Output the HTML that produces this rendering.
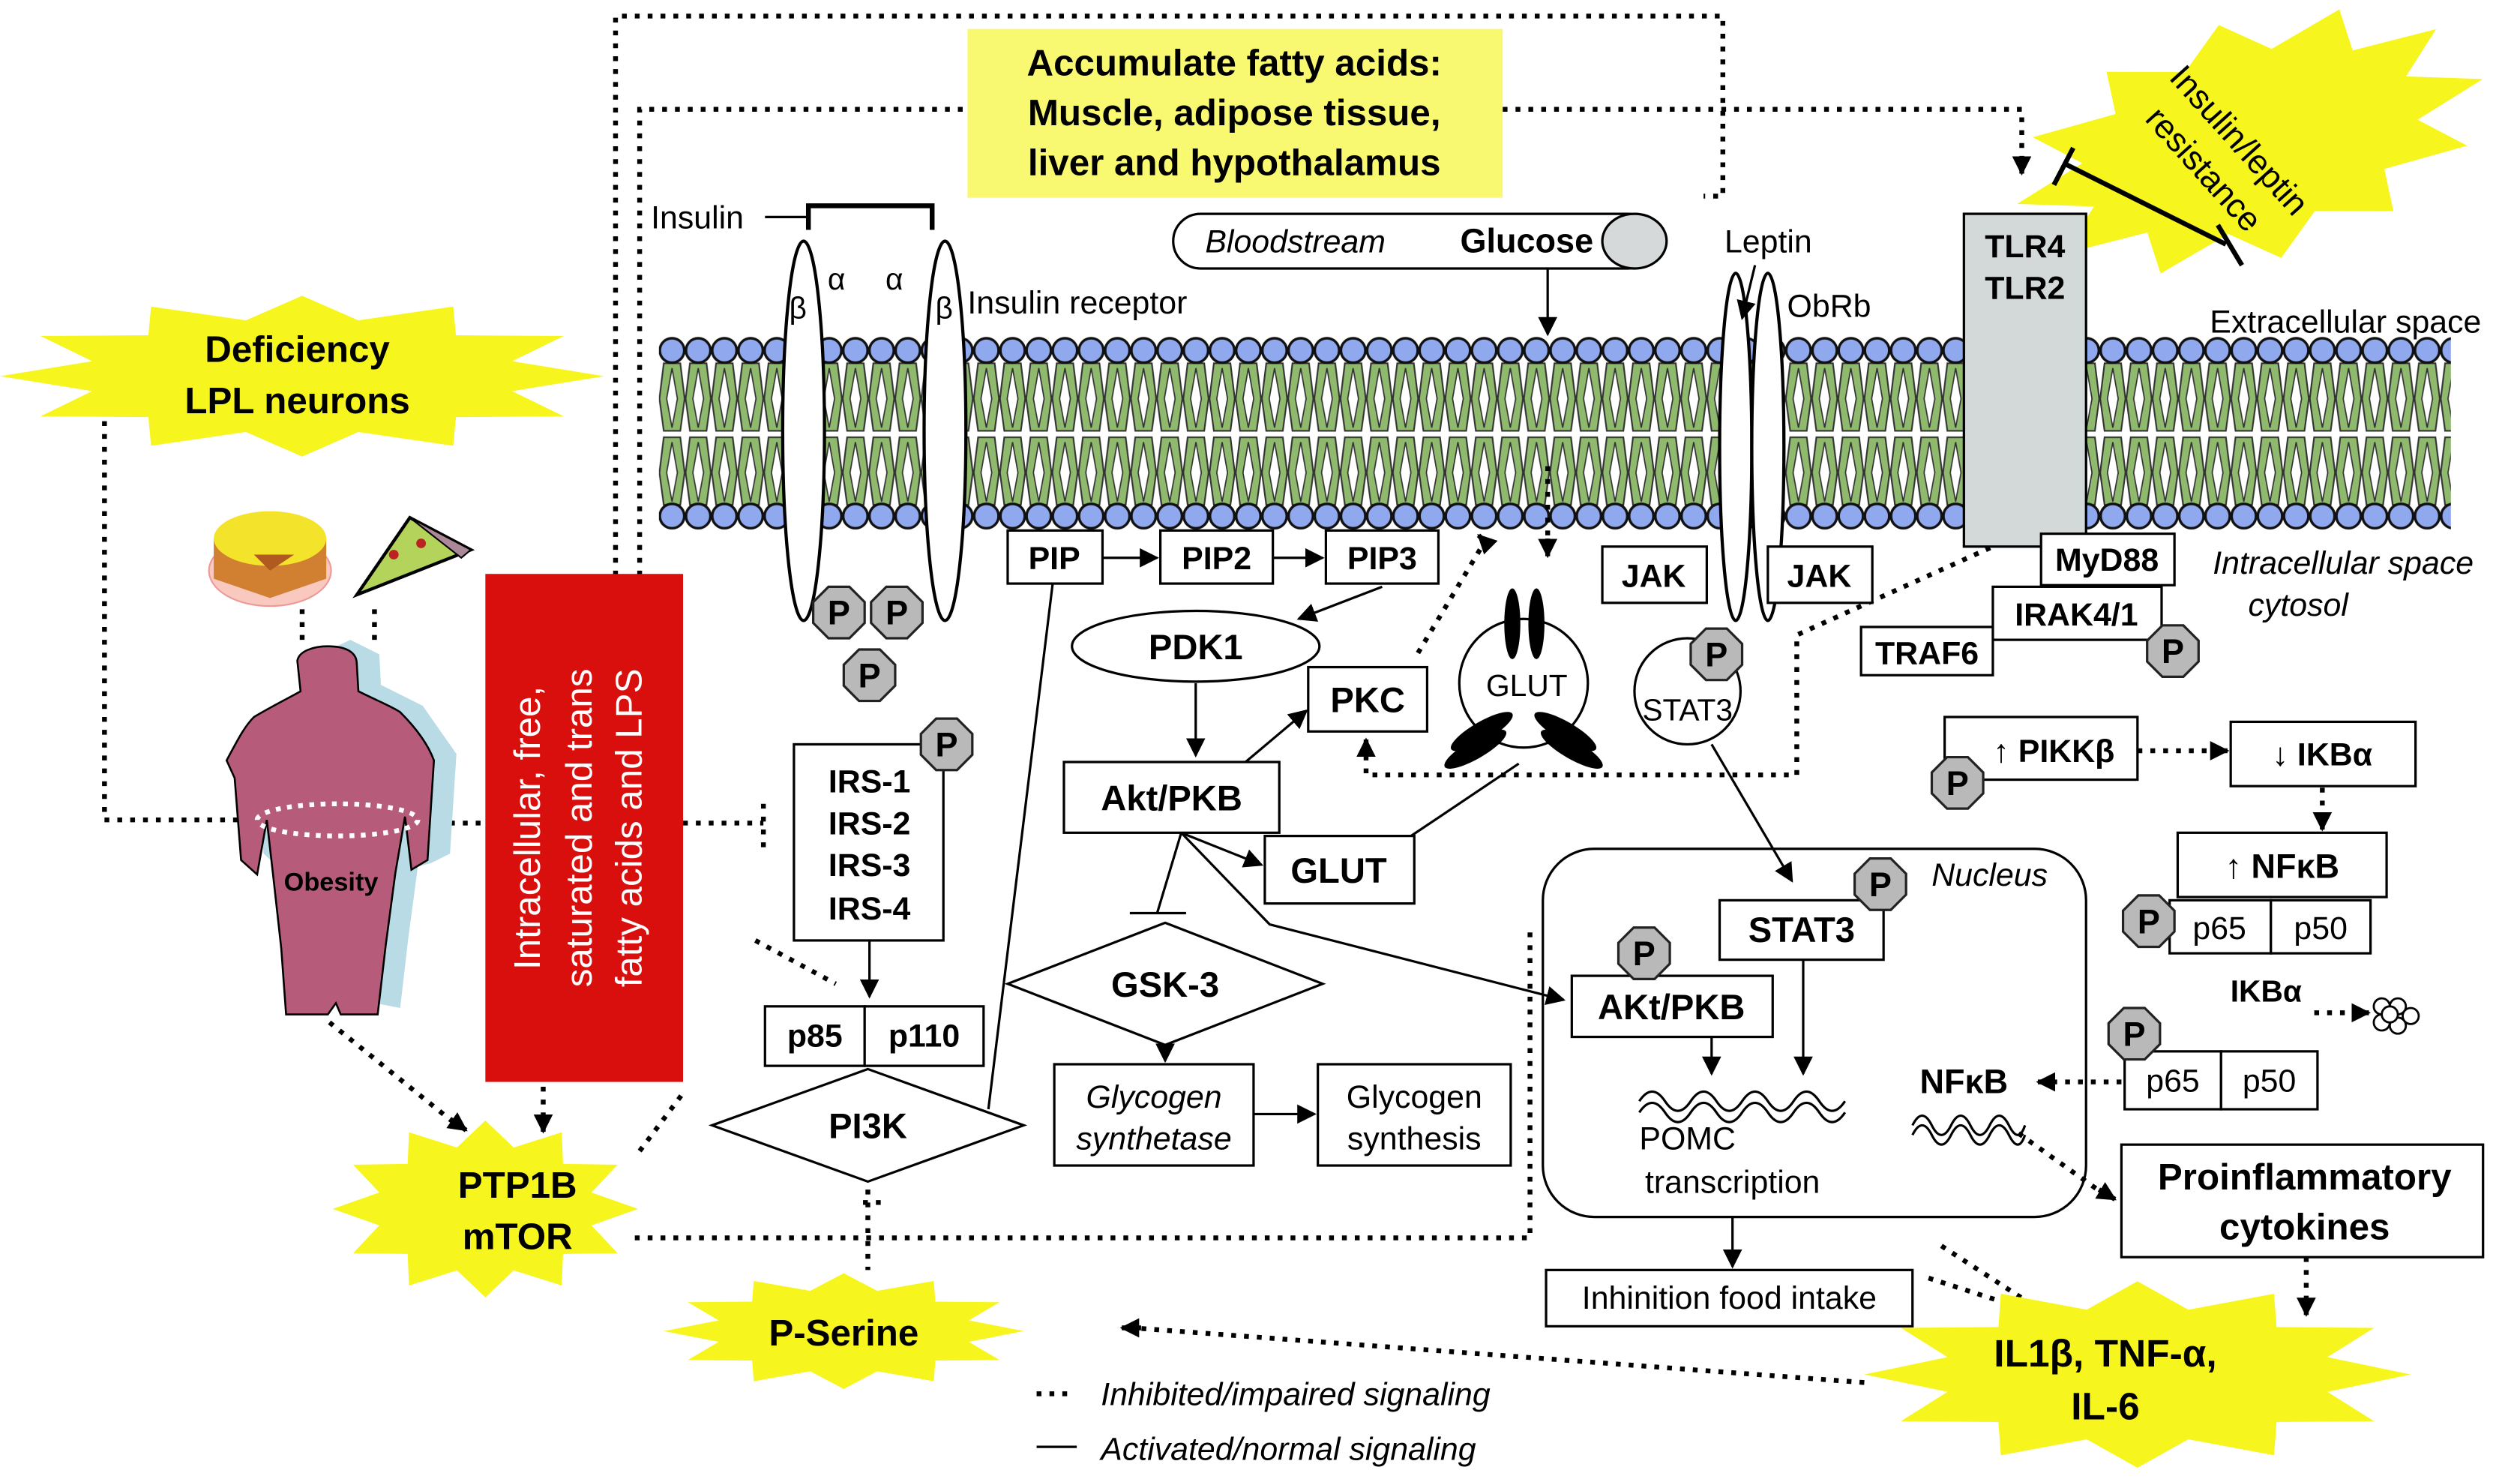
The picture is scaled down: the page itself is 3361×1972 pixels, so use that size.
<!DOCTYPE html>
<html><head><meta charset="utf-8"><style>
html,body{margin:0;padding:0;background:#fff}
svg{display:block}
text{font-family:"Liberation Sans",Arial,sans-serif}
.b{font-weight:bold}
</style></head><body>
<svg width="3361" height="1972" viewBox="0 0 1568 920" xmlns="http://www.w3.org/2000/svg">
<defs>
<marker id="a" viewBox="0 0 10 10" refX="9" refY="5" markerWidth="12" markerHeight="12" markerUnits="userSpaceOnUse" orient="auto"><path d="M0,0L10,5L0,10z" fill="#000"/></marker>
<pattern id="mem" patternUnits="userSpaceOnUse" x="410" y="208" width="16.3" height="124">
<polygon points="3,18 13.3,18 16,40 13.3,60 3,60 0.3,40" fill="#8fba6e" stroke="#333" stroke-width="1"/>
<polygon points="8.15,21 11.5,40 8.15,58 4.8,40" fill="#fff" stroke="#333" stroke-width="0.8"/>
<polygon points="3,64 13.3,64 16,86 13.3,106 3,106 0.3,86" fill="#8fba6e" stroke="#333" stroke-width="1"/>
<polygon points="8.15,67 11.5,86 8.15,104 4.8,86" fill="#fff" stroke="#333" stroke-width="0.8"/>
<circle cx="8.15" cy="10" r="7.6" fill="#8fa8ee" stroke="#111" stroke-width="1.6"/>
<circle cx="8.15" cy="113" r="7.6" fill="#8fa8ee" stroke="#111" stroke-width="1.6"/>
</pattern>
<polygon id="star" points="1,0 .695,.186 .866,.5 .509,.509 .5,.866 .186,.695 0,1 -.186,.695 -.5,.866 -.509,.509 -.866,.5 -.695,.186 -1,0 -.695,-.186 -.866,-.5 -.509,-.509 -.5,-.866 -.186,-.695 0,-1 .186,-.695 .5,-.866 .509,-.509 .866,-.5 .695,-.186" fill="#f7f51e"/>
<g id="P"><polygon points="6.5,-16 16,-6.5 16,6.5 6.5,16 -6.5,16 -16,6.5 -16,-6.5 -6.5,-16" fill="#b9b9b9" stroke="#222" stroke-width="1.5"/><text x="0" y="7.5" text-anchor="middle" font-size="21" class="b">P</text></g>
</defs>

<!-- membrane -->
<rect x="410" y="208" width="1115" height="124" fill="url(#mem)"/>

<!-- top dotted -->
<g fill="none" stroke="#000" stroke-width="3" stroke-dasharray="3,5">
<path d="M383,358V10H1072V122H1060"/>
<path d="M398,358V68H602"/>
<path d="M935,68H1258V105"/>
<path d="M963,290V340"/>
<path d="M850,470V482H1118V395L1240,340"/>
<path d="M925,335L880,410"/>
<path d="M65,262V510H155"/>
<path d="M240,512H300M425,512H475M475,500V527"/>
<path d="M188,379V402M233,379V400"/>
<path d="M205,636L282,698"/>
<path d="M338,676V698"/>
<path d="M398,716L425,680M470,585L520,612"/>
<path d="M395,770H952V575"/>
<path d="M540,740V790M548,748H535"/>
<path d="M1330,467H1380"/>
<path d="M1445,490V510"/>
<path d="M1440,630H1470"/>
<path d="M1320,673H1275"/>
<path d="M1256,705L1308,742"/>
<path d="M1435,782V812"/>
<path d="M1160,860L705,826"/>
<path d="M1200,795L1262,815M1208,775L1262,810"/>
<path d="M645,867H668"/>
</g>
<g stroke="#000" stroke-width="3" fill="none">
<path d="M1258,100V108" marker-end="url(#a)"/>
<path d="M925,338L920,333" marker-end="url(#a)"/>
<path d="M963,335V346" marker-end="url(#a)"/>
<path d="M850,470V460" marker-end="url(#a)"/>
<path d="M150,510H162" marker-end="url(#a)"/>
<path d="M280,696L290,703" marker-end="url(#a)"/>
<path d="M338,694V704" marker-end="url(#a)"/>
<path d="M1376,467H1386" marker-end="url(#a)"/>
<path d="M1445,506V516" marker-end="url(#a)"/>
<path d="M1466,630H1474" marker-end="url(#a)"/>
<path d="M1278,673H1268" marker-end="url(#a)"/>
<path d="M1306,740L1316,746" marker-end="url(#a)"/>
<path d="M1435,808V818" marker-end="url(#a)"/>
<path d="M710,826L698,826" marker-end="url(#a)"/>
</g>

<!-- yellow box -->
<rect x="602" y="18" width="333" height="105" fill="#f9f871"/>
<g class="b" font-size="23" text-anchor="middle"><text x="768" y="47" class="b">Accumulate fatty acids:</text><text x="768" y="78" class="b">Muscle, adipose tissue,</text><text x="768" y="109" class="b">liver and hypothalamus</text></g>

<!-- stars -->
<use href="#star" transform="translate(1400,88) rotate(-15) scale(150,75)"/>
<text transform="translate(1388,92) rotate(48)" font-size="21" text-anchor="middle">Insulin/leptin</text>
<text transform="translate(1366,110) rotate(48)" font-size="21" text-anchor="middle">resistance</text>
<use href="#star" transform="translate(188,234) scale(188,50)"/>
<text x="185" y="225" font-size="23" text-anchor="middle" class="b">Deficiency</text>
<text x="185" y="257" font-size="23" text-anchor="middle" class="b">LPL neurons</text>
<use href="#star" transform="translate(302,752) scale(95,55)"/>
<text x="322" y="745" font-size="23" text-anchor="middle" class="b">PTP1B</text>
<text x="322" y="777" font-size="23" text-anchor="middle" class="b">mTOR</text>
<use href="#star" transform="translate(525,828) scale(112,36)"/>
<text x="525" y="837" font-size="23" text-anchor="middle" class="b">P-Serine</text>
<use href="#star" transform="translate(1330,855) scale(170,58)"/>
<text x="1310" y="850" font-size="24" text-anchor="middle" class="b">IL1β, TNF-α,</text>
<text x="1310" y="883" font-size="24" text-anchor="middle" class="b">IL-6</text>

<!-- inhibition from resistance -->
<g stroke="#000" stroke-width="3"><path d="M1385,152L1285,102M1278,115L1290,92"/><path d="M1380,140L1395,165"/></g>

<!-- insulin receptor -->
<ellipse cx="500" cy="268" rx="13" ry="118" fill="#fff" stroke="#000" stroke-width="2"/>
<ellipse cx="588" cy="268" rx="13" ry="118" fill="#fff" stroke="#000" stroke-width="2"/>
<path d="M503,143V128H580V143" fill="none" stroke="#000" stroke-width="3"/>
<path d="M476,135H503" stroke="#000" stroke-width="1.5"/>
<text x="405" y="142" font-size="20">Insulin</text>
<text x="515" y="180" font-size="19">α</text><text x="551" y="180" font-size="19">α</text>
<text x="491" y="198" font-size="19">β</text><text x="582" y="198" font-size="19">β</text>
<text x="602" y="195" font-size="20">Insulin receptor</text>
<use href="#P" x="522" y="381"/><use href="#P" x="558" y="381"/><use href="#P" x="541" y="420"/>

<!-- IRS -->
<rect x="494" y="463" width="93" height="122" fill="#fff" stroke="#000" stroke-width="1.5"/>
<g font-size="20" class="b" text-anchor="middle"><text x="541" y="493" class="b">IRS-1</text><text x="541" y="519" class="b">IRS-2</text><text x="541" y="545" class="b">IRS-3</text><text x="541" y="572" class="b">IRS-4</text></g>
<use href="#P" x="589" y="463"/>
<path d="M541,585V620" stroke="#000" stroke-width="1.5" marker-end="url(#a)"/>
<rect x="476" y="626" width="62" height="37" fill="#fff" stroke="#000" stroke-width="1.5"/>
<rect x="538" y="626" width="74" height="37" fill="#fff" stroke="#000" stroke-width="1.5"/>
<text x="507" y="651" font-size="20" text-anchor="middle" class="b">p85</text>
<text x="575" y="651" font-size="20" text-anchor="middle" class="b">p110</text>
<polygon points="443,700 540,665 637,700 540,735" fill="#fff" stroke="#000" stroke-width="1.5"/>
<text x="540" y="708" font-size="22" text-anchor="middle" class="b">PI3K</text>

<!-- PIP chain -->
<path d="M655,363L615,690" stroke="#000" stroke-width="1.5"/>
<rect x="627" y="330" width="59" height="33" fill="#fff" stroke="#000" stroke-width="1.5"/>
<rect x="722" y="330" width="70" height="33" fill="#fff" stroke="#000" stroke-width="1.5"/>
<rect x="825" y="330" width="70" height="33" fill="#fff" stroke="#000" stroke-width="1.5"/>
<g font-size="20" class="b" text-anchor="middle"><text x="656" y="354" class="b">PIP</text><text x="757" y="354" class="b">PIP2</text><text x="860" y="354" class="b">PIP3</text></g>
<g stroke="#000" stroke-width="1.5" fill="none">
<path d="M686,347H720" marker-end="url(#a)"/><path d="M792,347H823" marker-end="url(#a)"/>
<path d="M860,365L808,385" marker-end="url(#a)"/>
<path d="M744,425V470" marker-end="url(#a)"/>
<path d="M775,474L813,442" marker-end="url(#a)"/>
<path d="M735,518L785,538" marker-end="url(#a)"/>
<path d="M735,518L720,568M703,568H738"/>
<path d="M725,650V660" marker-end="url(#a)"/>
<path d="M780,693H818" marker-end="url(#a)"/>
<path d="M735,518L790,575L973,622" marker-end="url(#a)"/>
<path d="M945,475L875,522"/>
<path d="M963,167V208" marker-end="url(#a)"/>
</g>
<ellipse cx="744" cy="402" rx="77" ry="22" fill="#fff" stroke="#000" stroke-width="1.5"/>
<text x="744" y="410" font-size="22" text-anchor="middle" class="b">PDK1</text>
<rect x="814" y="415" width="74" height="40" fill="#fff" stroke="#000" stroke-width="1.5"/>
<text x="851" y="443" font-size="22" text-anchor="middle" class="b">PKC</text>
<rect x="662" y="474" width="134" height="44" fill="#fff" stroke="#000" stroke-width="1.5"/>
<text x="729" y="504" font-size="22" text-anchor="middle" class="b">Akt/PKB</text>
<rect x="787" y="520" width="93" height="42" fill="#fff" stroke="#000" stroke-width="1.5"/>
<text x="833" y="549" font-size="22" text-anchor="middle" class="b">GLUT</text>
<polygon points="627,612 725,574 823,612 725,650" fill="#fff" stroke="#000" stroke-width="1.5"/>
<text x="725" y="620" font-size="22" text-anchor="middle" class="b">GSK-3</text>
<rect x="656" y="662" width="124" height="63" fill="#fff" stroke="#000" stroke-width="1.5"/>
<text x="718" y="689" font-size="20" text-anchor="middle" font-style="italic">Glycogen</text>
<text x="718" y="715" font-size="20" text-anchor="middle" font-style="italic">synthetase</text>
<rect x="820" y="662" width="120" height="63" fill="#fff" stroke="#000" stroke-width="1.5"/>
<text x="880" y="689" font-size="20" text-anchor="middle">Glycogen</text>
<text x="880" y="715" font-size="20" text-anchor="middle">synthesis</text>

<!-- glucose pill -->
<rect x="730" y="133" width="300" height="34" rx="17" fill="#fff" stroke="#000" stroke-width="1.5"/>
<ellipse cx="1017" cy="150" rx="20" ry="17" fill="#d5d9d9" stroke="#000" stroke-width="1.5"/>
<text x="806" y="157" font-size="20" text-anchor="middle" font-style="italic">Bloodstream</text>
<text x="950" y="157" font-size="21" text-anchor="middle" class="b">Glucose</text>

<!-- GLUT channel -->
<circle cx="948" cy="425" r="40" fill="#fff" stroke="#000" stroke-width="1.5"/>
<text x="950" y="433" font-size="19" text-anchor="middle">GLUT</text>
<ellipse cx="941" cy="388" rx="5" ry="22" fill="#000"/><ellipse cx="956" cy="388" rx="5" ry="22" fill="#000"/>
<ellipse cx="922" cy="455" rx="22" ry="6" transform="rotate(-30 922 455)" fill="#000"/>
<ellipse cx="918" cy="466" rx="22" ry="6" transform="rotate(-30 918 466)" fill="#000"/>
<ellipse cx="974" cy="455" rx="22" ry="6" transform="rotate(30 974 455)" fill="#000"/>
<ellipse cx="978" cy="466" rx="22" ry="6" transform="rotate(30 978 466)" fill="#000"/>

<!-- leptin receptor -->
<ellipse cx="1080" cy="278" rx="10" ry="108" fill="#fff" stroke="#000" stroke-width="2"/>
<ellipse cx="1100" cy="278" rx="10" ry="108" fill="#fff" stroke="#000" stroke-width="2"/>
<text x="1073" y="157" font-size="20">Leptin</text>
<text x="1112" y="197" font-size="20">ObRb</text>
<path d="M1092,165L1084,198" stroke="#000" stroke-width="1.5" marker-end="url(#a)"/>
<rect x="997" y="340" width="65" height="35" fill="#fff" stroke="#000" stroke-width="1.5"/>
<rect x="1100" y="340" width="65" height="35" fill="#fff" stroke="#000" stroke-width="1.5"/>
<text x="1029" y="365" font-size="20" text-anchor="middle" class="b">JAK</text>
<text x="1132" y="365" font-size="20" text-anchor="middle" class="b">JAK</text>
<circle cx="1050" cy="430" r="33" fill="#fff" stroke="#000" stroke-width="1.5"/>
<text x="1050" y="448" font-size="19" text-anchor="middle">STAT3</text>
<use href="#P" x="1068" y="407"/>
<path d="M1065,463L1115,548" stroke="#000" stroke-width="1.5" marker-end="url(#a)"/>

<!-- TLR -->
<rect x="1222" y="133" width="76" height="207" fill="#d3d9d9" stroke="#000" stroke-width="1.5"/>
<text x="1260" y="160" font-size="20" text-anchor="middle" class="b">TLR4</text>
<text x="1260" y="186" font-size="20" text-anchor="middle" class="b">TLR2</text>
<text x="1375" y="207" font-size="20">Extracellular space</text>
<text x="1458" y="357" font-size="20" text-anchor="middle" font-style="italic">Intracellular space</text>
<text x="1430" y="383" font-size="20" text-anchor="middle" font-style="italic">cytosol</text>
<rect x="1270" y="332" width="83" height="32" fill="#fff" stroke="#000" stroke-width="1.5"/>
<text x="1311" y="355" font-size="20" text-anchor="middle" class="b">MyD88</text>
<rect x="1240" y="365" width="105" height="33" fill="#fff" stroke="#000" stroke-width="1.5"/>
<text x="1292" y="389" font-size="20" text-anchor="middle" class="b">IRAK4/1</text>
<rect x="1158" y="390" width="82" height="30" fill="#fff" stroke="#000" stroke-width="1.5"/>
<text x="1199" y="413" font-size="20" text-anchor="middle" class="b">TRAF6</text>
<use href="#P" x="1352" y="405"/>

<rect x="1210" y="446" width="120" height="39" fill="#fff" stroke="#000" stroke-width="1.5"/>
<text x="1278" y="474" font-size="20" text-anchor="middle" class="b">↑ PIKKβ</text>
<use href="#P" x="1218" y="487"/>
<rect x="1388" y="449" width="115" height="40" fill="#fff" stroke="#000" stroke-width="1.5"/>
<text x="1445" y="476" font-size="20" text-anchor="middle" class="b">↓ IKBα</text>
<rect x="1355" y="518" width="130" height="40" fill="#fff" stroke="#000" stroke-width="1.5"/>
<text x="1420" y="546" font-size="21" text-anchor="middle" class="b">↑ NFκB</text>
<rect x="1350" y="560" width="63" height="33" fill="#fff" stroke="#000" stroke-width="1.5"/>
<rect x="1413" y="560" width="62" height="33" fill="#fff" stroke="#000" stroke-width="1.5"/>
<text x="1381" y="584" font-size="20" text-anchor="middle">p65</text>
<text x="1444" y="584" font-size="20" text-anchor="middle">p50</text>
<use href="#P" x="1337" y="573"/>
<text x="1410" y="623" font-size="19" text-anchor="middle" class="b">IKBα</text>
<g fill="#fff" stroke="#000" stroke-width="1.3"><circle cx="1482" cy="626" r="5"/><circle cx="1492" cy="626" r="5"/><circle cx="1500" cy="632" r="5"/><circle cx="1482" cy="636" r="5"/><circle cx="1492" cy="638" r="5"/><circle cx="1487" cy="631" r="5"/></g>
<rect x="1322" y="654" width="60" height="36" fill="#fff" stroke="#000" stroke-width="1.5"/>
<rect x="1382" y="654" width="60" height="36" fill="#fff" stroke="#000" stroke-width="1.5"/>
<text x="1352" y="679" font-size="20" text-anchor="middle">p65</text>
<text x="1412" y="679" font-size="20" text-anchor="middle">p50</text>
<use href="#P" x="1328" y="643"/>

<!-- nucleus -->
<rect x="960" y="528" width="338" height="229" rx="32" fill="none" stroke="#000" stroke-width="1.5"/>
<text x="1238" y="551" font-size="20" text-anchor="middle" font-style="italic">Nucleus</text>
<rect x="1070" y="560" width="102" height="37" fill="#fff" stroke="#000" stroke-width="1.5"/>
<text x="1121" y="586" font-size="22" text-anchor="middle" class="b">STAT3</text>
<use href="#P" x="1170" y="550"/>
<rect x="978" y="607" width="125" height="38" fill="#fff" stroke="#000" stroke-width="1.5"/>
<text x="1040" y="634" font-size="22" text-anchor="middle" class="b">AKt/PKB</text>
<use href="#P" x="1023" y="593"/>
<g stroke="#000" stroke-width="1.5" fill="none">
<path d="M1065,645V668" marker-end="url(#a)"/>
<path d="M1122,597V668" marker-end="url(#a)"/>
<path d="M1020,685q8,-12 16,0t16,0t16,0t16,0t16,0t16,0t16,0t16,0"/>
<path d="M1020,692q8,-12 16,0t16,0t16,0t16,0t16,0t16,0t16,0t16,0"/>
<path d="M1190,700q6,-12 12,0t12,0t12,0t12,0t12,0t10,0"/>
<path d="M1190,706q6,-12 12,0t12,0t12,0t12,0t12,0t10,0"/>
<path d="M1078,757V788" marker-end="url(#a)"/>
</g>
<text x="1050" y="715" font-size="20" text-anchor="middle">POMC</text>
<text x="1078" y="742" font-size="20" text-anchor="middle">transcription</text>
<text x="1222" y="680" font-size="21" text-anchor="middle" class="b">NFκB</text>
<rect x="962" y="790" width="228" height="35" fill="#fff" stroke="#000" stroke-width="1.5"/>
<text x="1076" y="814" font-size="20" text-anchor="middle">Inhinition food intake</text>
<rect x="1320" y="712" width="225" height="70" fill="#fff" stroke="#000" stroke-width="1.5"/>
<text x="1434" y="740" font-size="23" text-anchor="middle" class="b">Proinflammatory</text>
<text x="1434" y="771" font-size="23" text-anchor="middle" class="b">cytokines</text>

<!-- legend -->
<path d="M645,900H670" stroke="#000" stroke-width="1.5"/>
<text x="685" y="874" font-size="20" font-style="italic">Inhibited/impaired signaling</text>
<text x="685" y="908" font-size="20" font-style="italic">Activated/normal signaling</text>

<!-- red box -->
<rect x="302" y="357" width="123" height="316" fill="#d80f0c"/>
<g fill="#fff" font-size="23" text-anchor="middle">
<text transform="translate(336,515) rotate(-90)" fill="#fff">Intracellular, free,</text>
<text transform="translate(368,515) rotate(-90)" fill="#fff">saturated and trans</text>
<text transform="translate(399,515) rotate(-90)" fill="#fff">fatty acids and LPS</text>
</g>

<!-- obesity figure -->
<g transform="translate(14,-4)">
<path d="M204,402L222,411L223,430L249,443L270,473L266,535L254,541L246,543L240,588L235,631L209,626L178,631L175,626L170,545L160,544L150,535L146,484L141,473L158,446L187,430L185,411Z" fill="#b9dbe6"/>
</g>
<path d="M204,402C214,402 222,405 222,413L223,430C235,436 245,440 249,443C258,452 266,462 270,473L266,535L256,541L252,508L246,543L240,588L235,631L212,631L209,624L204,631L178,631L175,590L170,545L166,510L160,544L150,535L146,484L141,473C148,460 152,452 158,446C168,440 178,435 187,430L185,411C186,405 195,402 204,402Z" fill="#b65c7a" stroke="#000" stroke-width="1.2"/>
<ellipse cx="210" cy="510" rx="50" ry="10" fill="none" stroke="#fff" stroke-width="3" stroke-dasharray="3,4"/>
<text x="206" y="554" font-size="16" text-anchor="middle" class="b">Obesity</text>
<!-- cake -->
<ellipse cx="168" cy="355" rx="38" ry="22" fill="#f9c9bf" stroke="#e99" stroke-width="1"/>
<path d="M133,335V360L168,372L203,360V335" fill="#d08030"/>
<ellipse cx="168" cy="335" rx="35" ry="17" fill="#f3e32a"/>
<path d="M158,345L168,355L183,345Z" fill="#b05a20"/>
<!-- pizza -->
<path d="M222,370L255,322L293,342Z" fill="#b3d35a" stroke="#000" stroke-width="2"/>
<path d="M255,322L293,342L287,347Z" fill="#a89" stroke="#000"/>
<circle cx="245" cy="345" r="3" fill="#b22"/><circle cx="262" cy="338" r="3" fill="#b22"/>
</svg>
</body></html>
